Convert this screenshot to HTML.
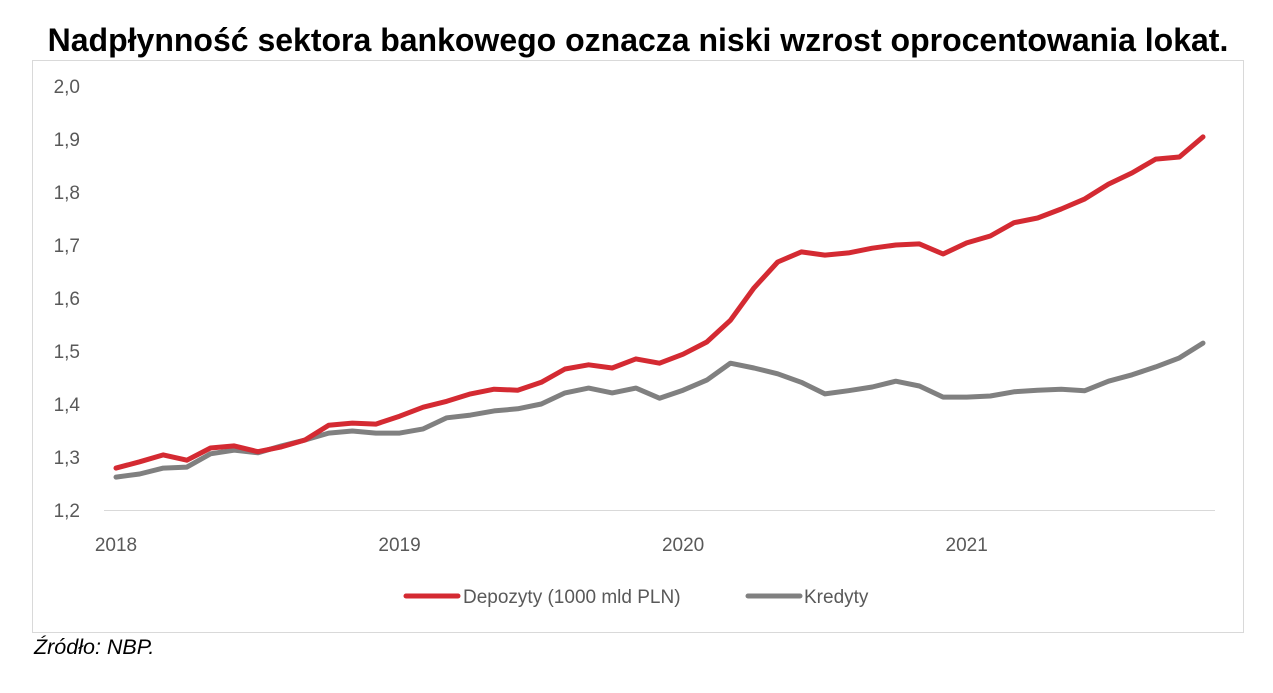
<!DOCTYPE html>
<html><head><meta charset="utf-8"><style>
body{margin:0;background:#fff;width:1273px;height:688px;overflow:hidden;font-family:"Liberation Sans",Arial,sans-serif;}
</style></head><body>
<svg width="1273" height="688" xmlns="http://www.w3.org/2000/svg">
<rect x="32.5" y="60.5" width="1211" height="572" fill="#fff" stroke="#d9d9d9"/>
<text x="638" y="51" text-anchor="middle" font-size="32" font-weight="bold" fill="#000">Nadpłynność sektora bankowego oznacza niski wzrost oprocentowania lokat.</text>
<g id="yticks"></g>
<line x1="104" y1="510.5" x2="1215" y2="510.5" stroke="#d9d9d9"/>
<g id="xticks"></g>
<g id="series"></g>
<line x1="406" y1="596" x2="458" y2="596" stroke="#d42a32" stroke-width="5" stroke-linecap="round"/>
<text x="463" y="603" font-size="19" fill="#595959">Depozyty (1000 mld PLN)</text>
<line x1="748" y1="596" x2="800" y2="596" stroke="#808080" stroke-width="5" stroke-linecap="round"/>
<text x="804" y="603" font-size="19" fill="#595959">Kredyty</text>
<text x="34" y="654" font-size="21.5" font-style="italic" fill="#000">Źródło: NBP.</text>
</svg>
<script>
const yTickLabels=["1,2","1,3","1,4","1,5","1,6","1,7","1,8","1,9","2,0"];
const yTickValues=[1.2,1.3,1.4,1.5,1.6,1.7,1.8,1.9,2.0];
const xTickLabels=["2018","2019","2020","2021"];
const xTickIndex=[0,12,24,36];
const depozyty=[1.279,1.291,1.304,1.294,1.317,1.321,1.31,1.319,1.332,1.36,1.364,1.362,1.377,1.394,1.405,1.419,1.428,1.426,1.441,1.466,1.474,1.468,1.485,1.477,1.494,1.517,1.558,1.619,1.668,1.687,1.681,1.685,1.694,1.7,1.702,1.683,1.704,1.717,1.742,1.751,1.768,1.787,1.815,1.836,1.862,1.866,1.904];
const kredyty=[1.262,1.268,1.279,1.281,1.306,1.313,1.308,1.321,1.332,1.345,1.349,1.345,1.345,1.353,1.374,1.379,1.387,1.391,1.4,1.421,1.43,1.421,1.43,1.411,1.426,1.445,1.477,1.468,1.457,1.441,1.419,1.425,1.432,1.443,1.434,1.413,1.413,1.415,1.423,1.426,1.428,1.425,1.443,1.455,1.47,1.487,1.515];
const NS="http://www.w3.org/2000/svg";
const y=v=>510-(v-1.2)/0.8*424;
const x=i=>116+i*(1203-116)/46;
const yt=document.getElementById('yticks');
yTickValues.forEach((v,k)=>{const t=document.createElementNS(NS,'text');
t.setAttribute('x',80);t.setAttribute('y',y(v)+7);t.setAttribute('text-anchor','end');t.setAttribute('font-size','19');t.setAttribute('fill','#595959');


t.textContent=yTickLabels[k];yt.appendChild(t);});
const xt=document.getElementById('xticks');
xTickIndex.forEach((idx,k)=>{const t=document.createElementNS(NS,'text');
t.setAttribute('x',x(idx));t.setAttribute('y',551);t.setAttribute('text-anchor','middle');t.setAttribute('font-size','19');t.setAttribute('fill','#595959');


t.textContent=xTickLabels[k];xt.appendChild(t);});
const sg=document.getElementById('series');
[[kredyty,'#808080','line-kredyty'],[depozyty,'#d42a32','line-depozyty']].forEach(([d,c,n])=>{
const p=document.createElementNS(NS,'polyline');
p.setAttribute('points',d.map((v,i)=>x(i).toFixed(1)+','+y(v).toFixed(1)).join(' '));
p.setAttribute('fill','none');p.setAttribute('stroke',c);p.setAttribute('stroke-width','5');p.setAttribute('stroke-linecap','round');p.setAttribute('stroke-linejoin','round');


sg.appendChild(p);});
</script>
</body></html>
